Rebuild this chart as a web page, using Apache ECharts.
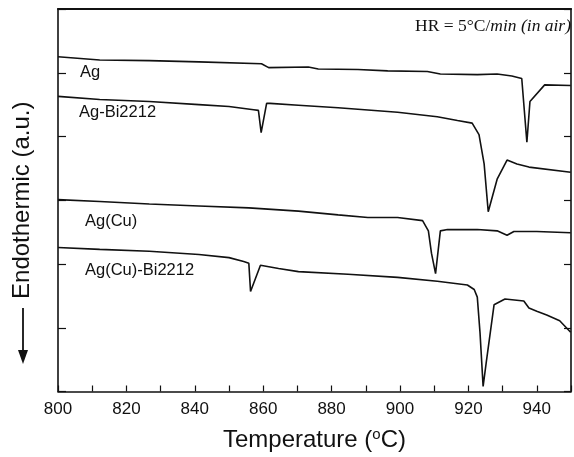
<!DOCTYPE html>
<html>
<head>
<meta charset="utf-8">
<script src="https://cdn.jsdelivr.net/npm/echarts@6/dist/echarts.min.js"></script>
<style>html,body{margin:0;padding:0;background:#fff}#c{width:574px;height:457px}</style>
</head>
<body>
<div id="c"></div>
<script>
// Temperature (°C), signal (a.u.)
const agData = [
  [800,5.25],[812.2,5.20],[826.7,5.19],[841.2,5.17],[859.5,5.14],[861.6,5.08],[873.2,5.09],
  [876.1,5.06],[887.7,5.05],[896.4,5.03],[908,5.02],[911.8,4.98],[922.6,4.97],[928.4,4.98],
  [932.7,4.95],[935.6,4.91],[937.1,3.91],[938,4.55],[942.3,4.81],[949.9,4.80]
];
const agBiData = [
  [800,4.63],[812.2,4.58],[826.7,4.55],[841.2,4.50],[850,4.47],[857.2,4.42],[858.6,4.41],
  [859.4,4.06],[861,4.52],[862,4.52],[870.3,4.49],[881.9,4.45],[899.3,4.38],[910.9,4.31],
  [916.8,4.25],[921.1,4.21],[923.1,4.03],[924.6,3.57],[925.8,2.82],[928.4,3.33],[931.3,3.63],
  [934.2,3.57],[937.7,3.52],[949.9,3.44]
];
const agCuData = [
  [800,3.01],[812.2,2.98],[826.7,2.94],[841.2,2.91],[855.8,2.88],[870.3,2.83],[881.9,2.77],
  [890.6,2.73],[899.3,2.73],[906.6,2.68],[908.3,2.52],[909.2,2.17],[910.4,1.85],[911.8,2.52],
  [913.9,2.54],[922.6,2.54],[928.4,2.52],[931.3,2.45],[933.3,2.51],[940,2.51],[949.9,2.49]
];
const agCuBiData = [
  [800,2.26],[812.2,2.23],[826.7,2.20],[841.2,2.15],[850,2.10],[854.3,2.04],[855.8,2.01],
  [856.3,1.57],[859.2,1.98],[864.5,1.93],[870.3,1.88],[884.8,1.84],[899.3,1.79],[910.9,1.73],
  [919.7,1.67],[921.7,1.60],[922.6,1.48],[923.4,0.92],[924.3,0.08],[925.2,0.45],[927.5,1.36],
  [930.7,1.45],[936.2,1.42],[937.7,1.31],[940,1.26],[942.9,1.20],[946.7,1.11],[949.9,0.93]
];
const seriesNames = ['Ag','Ag-Bi2212','Ag(Cu)','Ag(Cu)-Bi2212'];
const xTicks = [800,820,840,860,880,900,920,940];
const annotation = 'HR = 5°C/';
const annotationItalic = 'min (in air)';

const chart = echarts.init(document.getElementById('c'));
const lineStyle = {color:'#111', width:1.6};
const mk = (name, data) => ({name, type:'line', data, showSymbol:false, symbol:'none',
  lineStyle, itemStyle:{color:'#111'}, animation:false});
const ax = {show:true, onZero:false, lineStyle:{color:'#111', width:1.6}};
chart.setOption({
  animation:false,
  grid:{left:58, right:1, top:9, bottom:63},
  xAxis:[{
    type:'value', min:800, max:950, interval:10,
    axisLine:ax, axisTick:{show:true, inside:true, length:6, lineStyle:{color:'#111', width:1.2}},
    splitLine:{show:false},
    axisLabel:{margin:9, color:'#111', fontSize:17, fontFamily:'Liberation Sans',
      formatter:v => xTicks.includes(v) ? String(v) : ''},
    name:'Temperature ({s|o}C)', nameLocation:'middle', nameGap:36,
    nameTextStyle:{color:'#111', fontSize:24, fontFamily:'Liberation Sans',
      rich:{s:{fontSize:15, verticalAlign:'top', padding:[0,0,10,0], fontFamily:'Liberation Sans', color:'#111'}}}
  },{
    type:'value', min:800, max:950, position:'top',
    axisLine:{show:true, onZero:false, lineStyle:{color:'#111', width:2.2}}, axisTick:{show:false},
    axisLabel:{show:false}, splitLine:{show:false}
  }],
  yAxis:[{
    type:'value', min:0, max:6, interval:1,
    axisLine:ax, axisTick:{show:true, inside:true, length:8, lineStyle:{color:'#111', width:1.2}},
    axisLabel:{show:false}, splitLine:{show:false},
    name:'Endothermic (a.u.)', nameLocation:'middle', nameGap:24,
    nameTextStyle:{color:'#111', fontSize:24, fontFamily:'Liberation Sans'}
  },{
    type:'value', min:0, max:6, interval:1, position:'right',
    axisLine:ax, axisTick:{show:true, inside:true, length:7, lineStyle:{color:'#111', width:1.2}},
    axisLabel:{show:false}, splitLine:{show:false}
  }],
  series:[mk(seriesNames[0],agData), mk(seriesNames[1],agBiData), mk(seriesNames[2],agCuData), mk(seriesNames[3],agCuBiData)],
  graphic:[
    {type:'text', left:80, top:64, style:{text:seriesNames[0], fontSize:16.5, fontFamily:'Liberation Sans', fill:'#111'}},
    {type:'text', left:79, top:104, style:{text:seriesNames[1], fontSize:16.5, fontFamily:'Liberation Sans', fill:'#111'}},
    {type:'text', left:85, top:213, style:{text:seriesNames[2], fontSize:16.5, fontFamily:'Liberation Sans', fill:'#111'}},
    {type:'text', left:85, top:262, style:{text:seriesNames[3], fontSize:16.5, fontFamily:'Liberation Sans', fill:'#111'}},
    {type:'text', right:3, top:17, style:{text:'{n|'+annotation+'}{i|'+annotationItalic+'}',
      rich:{n:{fontSize:17.5, fontFamily:'Liberation Serif', fill:'#111'},
            i:{fontSize:17.5, fontFamily:'Liberation Serif', fontStyle:'italic', fill:'#111'}}}},
    {type:'group', children:[
      {type:'line', shape:{x1:23, y1:308, x2:23, y2:358}, style:{stroke:'#111', lineWidth:1.8}},
      {type:'polygon', shape:{points:[[18,350],[28,350],[23,364]]}, style:{fill:'#111'}}
    ]}
  ]
});
</script>
</body>
</html>
